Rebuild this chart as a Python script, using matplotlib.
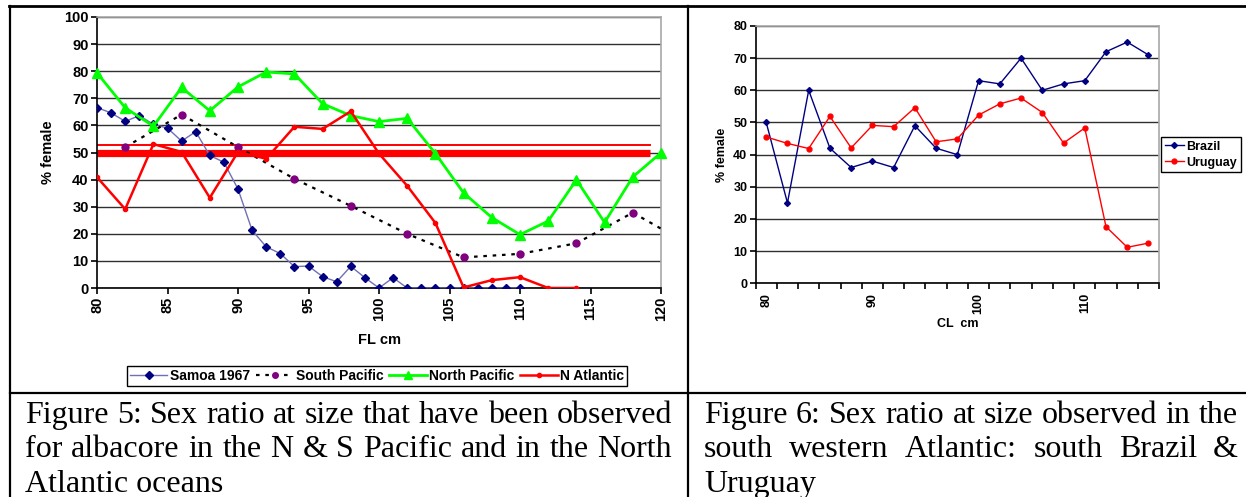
import numpy as np
import matplotlib
matplotlib.use('Agg')
import matplotlib.pyplot as plt
from matplotlib.lines import Line2D

plt.rcParams['font.family'] = ['Liberation Sans', 'DejaVu Sans']

W, H = 1246, 497

# --- Figure 5 data: sex ratio at size (FL cm) ---
samoa_fl = np.arange(80, 111, 1)
samoa_pct = [66.6, 64.6, 61.5, 63.6, 60.4, 59.0, 54.2, 57.7, 48.9, 46.4,
             36.5, 21.3, 15.2, 12.7, 7.9, 8.1, 4.2, 2.3, 8.0, 3.8,
             0, 3.8, 0, 0, 0, 0, 0, 0, 0, 0, 0]

spac_fl = [82, 86, 90, 94, 98, 102, 106, 110, 114, 118, 120]
spac_pct = [52.0, 64.0, 52.0, 40.3, 30.3, 20.0, 11.3, 12.6, 16.5, 27.8, 21.9]

npac_fl = np.arange(80, 121, 2)
npac_pct = [79.4, 66.5, 59.7, 74.0, 65.4, 74.2, 79.7, 79.0, 68.0, 63.6, 61.4,
            62.6, 49.6, 35.1, 26.0, 19.7, 24.7, 39.9, 24.2, 41.0, 49.9]

natl_fl = np.arange(80, 115, 2)
natl_pct = [40.9, 29.1, 53.1, 50.2, 33.3, 50.2, 47.7, 59.5, 58.7, 65.2,
            49.6, 37.7, 24.0, 0.2, 2.9, 4.0, 0, 0]

# 50% reference lines
ref_x = [80, 119.2]
ref_main = 50
ref_upper = 52.7

# --- Figure 6 data: south western Atlantic (CL cm) ---
cl_cm = np.arange(80, 117, 2)
brazil_pct = [50, 25, 60, 42, 36, 38, 36, 49, 42, 40, 63, 62, 70, 60, 62, 63, 72, 75, 71]
uruguay_pct = [45.5, 43.5, 41.9, 51.9, 42.1, 49.1, 48.7, 54.6, 44.0, 44.9,
               52.3, 55.8, 57.6, 53.1, 43.6, 48.3, 17.6, 11.2, 12.5]

caption5 = ["Figure 5: Sex ratio at size that have been observed",
            "for albacore in the N & S Pacific and in the North",
            "Atlantic oceans"]
caption6 = ["Figure 6: Sex ratio at size observed in the",
            "south western Atlantic: south Brazil &",
            "Uruguay"]

fig = plt.figure(figsize=(W / 100, H / 100), dpi=100)


def fx(px):
    return px / W


def fy(py):
    return 1 - py / H


def style_axes(ax):
    ax.yaxis.grid(True, color='#303030', lw=1.0)
    ax.set_axisbelow(True)
    for s in ['left', 'bottom']:
        ax.spines[s].set_color('black')
        ax.spines[s].set_linewidth(1.2)
    for s in ['top', 'right']:
        ax.spines[s].set_color('#a8a8a8')
        ax.spines[s].set_linewidth(1.2)


# ---------------- left chart ----------------
ax1 = fig.add_axes([fx(97), fy(288), fx(661 - 97), (288 - 17) / H])
style_axes(ax1)

ax1.plot(ref_x, [ref_upper, ref_upper], color='#ff0000', lw=1.4, zorder=2)
ax1.plot(ref_x, [ref_main, ref_main], color='#ff0000', lw=5.2, solid_capstyle='butt', zorder=2)

l_samoa, = ax1.plot(samoa_fl, samoa_pct, color='#7070b4', lw=1.0, marker='D', ms=4,
                    mfc='#000080', mec='#000080', zorder=3)
ax1.plot(spac_fl, spac_pct, color='black', lw=1.6, ls=(0, (1.6, 2.6)), zorder=3)
ax1.plot(spac_fl[:-1], spac_pct[:-1], ls='none', marker='o', ms=5,
         mfc='#800080', mec='#800080', zorder=4)
l_spac = Line2D([], [], color='black', lw=1.6, ls=(0, (1.6, 2.6)), marker='o', ms=4,
                mfc='#800080', mec='#800080')
l_npac, = ax1.plot(npac_fl, npac_pct, color='#00ff00', lw=2.0, marker='^', ms=7,
                   mfc='#00ff00', mec='#00ff00', clip_on=False, zorder=4)
l_natl, = ax1.plot(natl_fl, natl_pct, color='#ff0000', lw=1.8, marker='o', ms=3,
                   mfc='#ff0000', mec='#ff0000', zorder=5)

ax1.set_xlim(80, 120)
ax1.set_ylim(0, 100)
ax1.set_xticks(np.arange(80, 121, 5))
ax1.set_yticks(np.arange(0, 101, 10))
ax1.tick_params(axis='both', direction='out', length=4, width=1.2, labelsize=10.5, pad=2)
ax1.tick_params(axis='x', labelrotation=90)
for lab in ax1.get_xticklabels() + ax1.get_yticklabels():
    lab.set_fontweight('bold')
ax1.set_xlabel('FL cm', fontsize=10.5, fontweight='bold')
ax1.xaxis.set_label_coords(0.5, (288 - 340) / 271)
ax1.xaxis.label.set_va('center')
ax1.set_ylabel('% female', fontsize=10.5, fontweight='bold')
ax1.yaxis.set_label_coords((48 - 97) / 564, 0.5)
ax1.yaxis.label.set_va('center')

l_spac_leg = Line2D([], [], color='black', lw=1.6, ls=(0, (1.6, 2.6)), marker='o', ms=4,
                    mfc='#800080', mec='#800080')
l_npac_leg = Line2D([], [], color='#00ff00', lw=2.0, marker='^', ms=6,
                    mfc='#00ff00', mec='#00ff00')
fig.legend([l_samoa, l_spac_leg, l_npac_leg, l_natl],
           ['Samoa 1967', 'South Pacific', 'North Pacific', 'N Atlantic'],
           loc='center', bbox_to_anchor=(fx(377), fy(376)), ncol=4,
           prop=dict(weight='bold', size=10), frameon=True, fancybox=False,
           edgecolor='black', framealpha=1, handlelength=2.7, handletextpad=0.15,
           columnspacing=0.45, borderpad=0.22, borderaxespad=0)

# ---------------- right chart ----------------
ax2 = fig.add_axes([fx(755.6), fy(283.3), fx(1159.1 - 755.6), (283.3 - 26) / H])
style_axes(ax2)

l_bra, = ax2.plot(cl_cm, brazil_pct, color='#000080', lw=1.0, marker='D', ms=3,
                  mfc='#000080', mec='#000080')
l_uru, = ax2.plot(cl_cm, uruguay_pct, color='#ff0000', lw=1.0, marker='o', ms=3.5,
                  mfc='#ff0000', mec='#ff0000')

ax2.set_xlim(79, 117)
ax2.set_ylim(0, 80)
ax2.set_xticks([80, 90, 100, 110])
ax2.set_xticks(np.arange(79, 118, 2), minor=True)
ax2.set_yticks(np.arange(0, 81, 10))
ax2.tick_params(axis='x', which='major', length=0, pad=7, labelsize=9, labelrotation=90)
ax2.tick_params(axis='x', which='minor', direction='out', length=4, width=1.2)
ax2.tick_params(axis='y', direction='out', length=4, width=1.2, labelsize=9, pad=2)
for lab in ax2.get_xticklabels() + ax2.get_yticklabels():
    lab.set_fontweight('bold')
ax2.set_xlabel('CL  cm', fontsize=9, fontweight='bold')
ax2.xaxis.set_label_coords(0.5, (283.3 - 324) / 257.3)
ax2.xaxis.label.set_va('center')
ax2.set_ylabel('% female', fontsize=9, fontweight='bold')
ax2.yaxis.set_label_coords((722 - 755.6) / 403.5, 0.5)
ax2.yaxis.label.set_va('center')

fig.legend([l_bra, l_uru], ['Brazil', 'Uruguay'], loc='center',
           bbox_to_anchor=(fx(1201), fy(154.7)), ncol=1,
           prop=dict(weight='bold', size=9), frameon=True, fancybox=False,
           edgecolor='black', framealpha=1, handlelength=1.5, handletextpad=0.2,
           labelspacing=0.3, borderpad=0.3, borderaxespad=0)

# ---------------- table borders ----------------
border = dict(color='black', transform=fig.transFigure)
fig.add_artist(Line2D([fx(9), fx(W)], [fy(6), fy(6)], lw=2.0, **border))
fig.add_artist(Line2D([fx(10), fx(10)], [fy(6), 0], lw=1.6, **border))
fig.add_artist(Line2D([fx(688), fx(688)], [fy(6), 0], lw=1.6, **border))
fig.add_artist(Line2D([fx(10), fx(W)], [fy(392.5), fy(392.5)], lw=1.6, **border))

# ---------------- captions (justified like the document) ----------------
renderer = fig.canvas.get_renderer()
cap_font = dict(family='Liberation Serif', size=23, color='black', va='baseline', ha='left')
baselines = [423, 457, 492]


def put_caption(lines, x0, x1):
    for i, (line, yb) in enumerate(zip(lines, baselines)):
        if i == len(lines) - 1:
            fig.text(fx(x0), fy(yb), line, **cap_font)
            continue
        words = line.split(' ')
        texts = [fig.text(0, 0, w, **cap_font) for w in words]
        widths = [t.get_window_extent(renderer).width for t in texts]
        gap = (x1 - x0 - sum(widths)) / (len(words) - 1)
        x = x0
        for t, w in zip(texts, widths):
            t.set_position((fx(x), fy(yb)))
            x += w + gap


put_caption(caption5, 25, 672)
put_caption(caption6, 704, 1238)

fig.savefig('out.png', dpi=100)
